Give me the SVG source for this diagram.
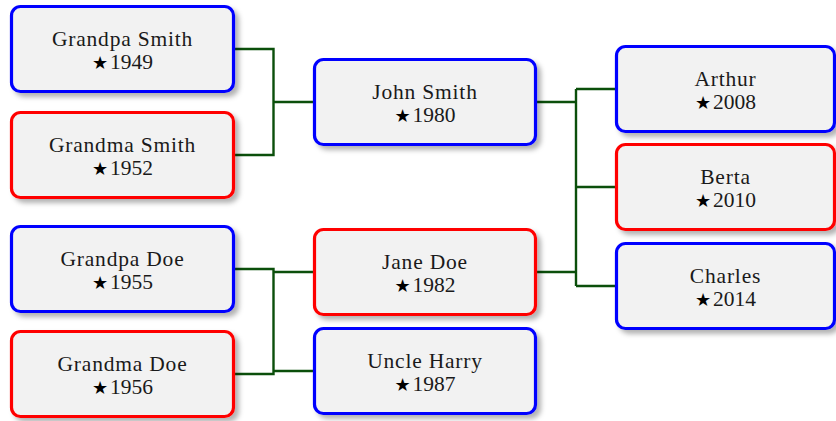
<svg xmlns="http://www.w3.org/2000/svg" width="836" height="421" viewBox="0 0 836 421">
<style>
.box{fill:#f2f2f2;stroke-width:3.2;filter:url(#sh)}
.m{stroke:#0000ff}
.f{stroke:#ff0000}
.name,.year{font-family:"Liberation Serif","Times New Roman",serif;font-size:21.5px;fill:#1a1a1a;text-anchor:middle}
.name{letter-spacing:0.8px}
.star{font-family:"DejaVu Sans",sans-serif;font-size:18px;fill:#000}
#connectors path{fill:none;stroke:#0b4f0b;stroke-width:2.4}
</style>
<defs>
<filter id="sh" x="-10%" y="-10%" width="125%" height="135%">
<feGaussianBlur in="SourceAlpha" stdDeviation="2.5"/>
<feOffset dx="4" dy="4" result="b"/>
<feFlood flood-color="#000" flood-opacity="0.3"/>
<feComposite in2="b" operator="in"/>
<feMerge><feMergeNode/><feMergeNode in="SourceGraphic"/></feMerge>
</filter>
</defs>
<g id="connectors">
<path d="M235,49 H273.5 V155 H235 M273.5,102 H313"/>
<path d="M235,269 H273.5 V374 H235 M273.5,272 H313 M273.5,371 H313"/>
<path d="M537,102 H576 M537,272 H576 M576,89 V286 M576,89 H615 M576,187 H615 M576,286 H615"/>
</g>
<g id="grandpa-smith">
<rect class="box m" x="11.5" y="6.5" width="222" height="85" rx="9"/>
<text class="name" x="122.5" y="46">Grandpa Smith</text>
<text class="year" x="122.5" y="68.5"><tspan class="star">★</tspan><tspan dx="2">1949</tspan></text>
</g>
<g id="grandma-smith">
<rect class="box f" x="11.5" y="112.5" width="222" height="85" rx="9"/>
<text class="name" x="122.5" y="152">Grandma Smith</text>
<text class="year" x="122.5" y="174.5"><tspan class="star">★</tspan><tspan dx="2">1952</tspan></text>
</g>
<g id="grandpa-doe">
<rect class="box m" x="11.5" y="226.5" width="222" height="85" rx="9"/>
<text class="name" x="122.5" y="266">Grandpa Doe</text>
<text class="year" x="122.5" y="288.5"><tspan class="star">★</tspan><tspan dx="2">1955</tspan></text>
</g>
<g id="grandma-doe">
<rect class="box f" x="11.5" y="331.5" width="222" height="85" rx="9"/>
<text class="name" x="122.5" y="371">Grandma Doe</text>
<text class="year" x="122.5" y="393.5"><tspan class="star">★</tspan><tspan dx="2">1956</tspan></text>
</g>
<g id="john-smith">
<rect class="box m" x="314.5" y="59.5" width="221" height="85" rx="9"/>
<text class="name" x="425" y="99">John Smith</text>
<text class="year" x="425" y="121.5"><tspan class="star">★</tspan><tspan dx="2">1980</tspan></text>
</g>
<g id="jane-doe">
<rect class="box f" x="314.5" y="229.5" width="221" height="85" rx="9"/>
<text class="name" x="425" y="269">Jane Doe</text>
<text class="year" x="425" y="291.5"><tspan class="star">★</tspan><tspan dx="2">1982</tspan></text>
</g>
<g id="uncle-harry">
<rect class="box m" x="314.5" y="328.5" width="221" height="85" rx="9"/>
<text class="name" x="425" y="368">Uncle Harry</text>
<text class="year" x="425" y="390.5"><tspan class="star">★</tspan><tspan dx="2">1987</tspan></text>
</g>
<g id="arthur">
<rect class="box m" x="616.5" y="46.5" width="218" height="85" rx="9"/>
<text class="name" x="725.5" y="86">Arthur</text>
<text class="year" x="725.5" y="108.5"><tspan class="star">★</tspan><tspan dx="2">2008</tspan></text>
</g>
<g id="berta">
<rect class="box f" x="616.5" y="144.5" width="218" height="85" rx="9"/>
<text class="name" x="725.5" y="184">Berta</text>
<text class="year" x="725.5" y="206.5"><tspan class="star">★</tspan><tspan dx="2">2010</tspan></text>
</g>
<g id="charles">
<rect class="box m" x="616.5" y="243.5" width="218" height="85" rx="9"/>
<text class="name" x="725.5" y="283">Charles</text>
<text class="year" x="725.5" y="305.5"><tspan class="star">★</tspan><tspan dx="2">2014</tspan></text>
</g>
</svg>
